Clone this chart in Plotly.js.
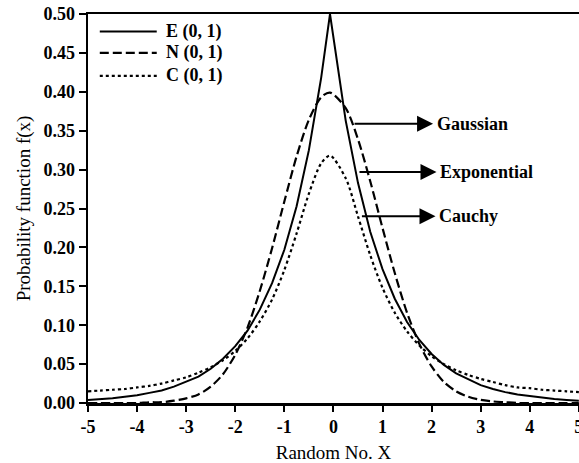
<!DOCTYPE html>
<html>
<head>
<meta charset="utf-8">
<script src="https://cdn.plot.ly/plotly-3.0.1.min.js"></script>
<style>html,body{margin:0;padding:0;background:#fff;}#chart{width:579px;height:463px;}</style>
</head>
<body>
<div id="chart"></div>
<script>
// Random No. X (sample positions)
const xs = [-5,-4.75,-4.5,-4.25,-4,-3.75,-3.5,-3.25,-3,-2.75,-2.5,-2.25,-2,-1.75,-1.5,-1.25,-1,-0.75,-0.5,-0.25,-0.07,
            0.25,0.5,0.75,1,1.25,1.5,1.75,2,2.25,2.5,2.75,3,3.25,3.5,3.75,4,4.25,4.5,4.75,5];
// E (0, 1)  – exponential (Laplace) curve
const expoY = [0.004,0.005,0.006,0.008,0.010,0.013,0.016,0.021,0.027,0.034,0.044,0.057,0.073,0.093,0.120,0.154,0.197,0.253,0.325,0.418,0.500,
               0.363,0.283,0.220,0.172,0.134,0.104,0.081,0.063,0.049,0.038,0.030,0.023,0.018,0.014,0.011,0.009,0.007,0.005,0.004,0.003];
// N (0, 1)  – Gaussian curve
const gaussY = [0.000,0.000,0.000,0.000,0.000,0.001,0.001,0.003,0.006,0.011,0.021,0.037,0.062,0.097,0.144,0.199,0.259,0.317,0.364,0.393,0.399,
                0.379,0.339,0.285,0.225,0.167,0.116,0.076,0.047,0.027,0.015,0.008,0.004,0.002,0.001,0.000,0.000,0.000,0.000,0.000,0.000];
// C (0, 1)  – Cauchy curve
const cauchyY = [0.015,0.016,0.017,0.018,0.020,0.022,0.025,0.029,0.033,0.039,0.046,0.055,0.067,0.083,0.105,0.133,0.171,0.218,0.269,0.308,0.318,
                 0.289,0.240,0.190,0.148,0.116,0.092,0.074,0.060,0.050,0.042,0.036,0.031,0.027,0.023,0.020,0.019,0.017,0.016,0.015,0.014];

const seriesNames = ["E (0, 1)", "N (0, 1)", "C (0, 1)"];
const xTickVals = [-5,-4,-3,-2,-1,0,1,2,3,4,5];
const xTickText = ["-5","-4","-3","-2","-1","0","1","2","3","4","5"];

// Arrow call-outs: label, arrow start (on curve), arrow tip
const calloutLabels = ["Gaussian", "Exponential", "Cauchy"];
const calloutY      = [0.359, 0.297, 0.240];
const calloutStartX = [0.40, 0.50, 0.55];
const calloutTipX   = [2.03, 2.10, 2.08];

const serif = "Liberation Serif, Times New Roman, serif";
const serifBold = {family: serif, size: 18, color: "#000", weight: "bold"};

const lineStyles = [
  {color: "#000", width: 2, dash: "solid"},
  {color: "#000", width: 2.2, dash: "9px,4px"},
  {color: "#000", width: 2.2, dash: "3px,3px"}
];

const traces = [
  {x: xs, y: expoY, name: seriesNames[0], type: "scatter", mode: "lines", showlegend: false,
   line: Object.assign({shape: "linear"}, lineStyles[0])},
  {x: xs, y: gaussY, name: seriesNames[1], type: "scatter", mode: "lines", showlegend: false,
   line: Object.assign({shape: "spline", smoothing: 0.8}, lineStyles[1])},
  {x: xs, y: cauchyY, name: seriesNames[2], type: "scatter", mode: "lines", showlegend: false,
   line: Object.assign({shape: "spline", smoothing: 0.8}, lineStyles[2])}
];

const annotations = [];
const shapes = [];
for (let i = 0; i < calloutLabels.length; i++) {
  annotations.push({
    x: calloutTipX[i], y: calloutY[i], xref: "x", yref: "y",
    ax: calloutStartX[i], ay: calloutY[i], axref: "x", ayref: "y",
    text: "", showarrow: true, arrowhead: 2, arrowsize: 1.6, arrowwidth: 2,
    arrowcolor: "#000", standoff: 0, startstandoff: 0
  });
  annotations.push({
    x: calloutTipX[i] + 0.03, y: calloutY[i], xref: "x", yref: "y",
    text: calloutLabels[i], showarrow: false, xanchor: "left", yanchor: "middle",
    font: serifBold
  });
}

// Legend drawn in the upper-left corner of the plot (long line samples as in the original)
const legendRowY = [0.955, 0.900, 0.841];
for (let i = 0; i < seriesNames.length; i++) {
  shapes.push({type: "line", xref: "paper", yref: "paper",
               x0: 0.024, x1: 0.140, y0: legendRowY[i], y1: legendRowY[i],
               line: lineStyles[i]});
  annotations.push({x: 0.154, y: legendRowY[i], xref: "paper", yref: "paper",
                    text: seriesNames[i], showarrow: false, xanchor: "left", yanchor: "middle",
                    font: serifBold});
}

const layout = {
  width: 579, height: 463,
  margin: {l: 88, r: 0, t: 14, b: 60, pad: 0},
  paper_bgcolor: "#fff", plot_bgcolor: "#fff",
  showlegend: false,
  xaxis: {
    range: [-5, 5.003], tickmode: "array", tickvals: xTickVals, ticktext: xTickText,
    showgrid: false, zeroline: false, showline: true, linecolor: "#000", linewidth: 2.5,
    mirror: true, ticks: "outside", ticklen: 6, tickwidth: 2, tickcolor: "#000",
    tickfont: serifBold, automargin: false, ticklabeloverflow: "allow",
    title: {text: "Random No. X", font: {family: serif, size: 19, color: "#000"}, standoff: 10}
  },
  yaxis: {
    range: [0, 0.5], dtick: 0.05, tick0: 0, tickformat: ".2f",
    showgrid: false, zeroline: false, showline: true, linecolor: "#000", linewidth: 2.5,
    ticks: "outside", ticklen: 7, tickwidth: 2, tickcolor: "#000",
    tickfont: serifBold, automargin: false,
    title: {text: "Probability function f(x)", font: {family: serif, size: 19, color: "#000"}, standoff: 8}
  },
  shapes: shapes,
  annotations: annotations
};

Plotly.newPlot("chart", traces, layout, {displayModeBar: false, staticPlot: true});
</script>
</body>
</html>
